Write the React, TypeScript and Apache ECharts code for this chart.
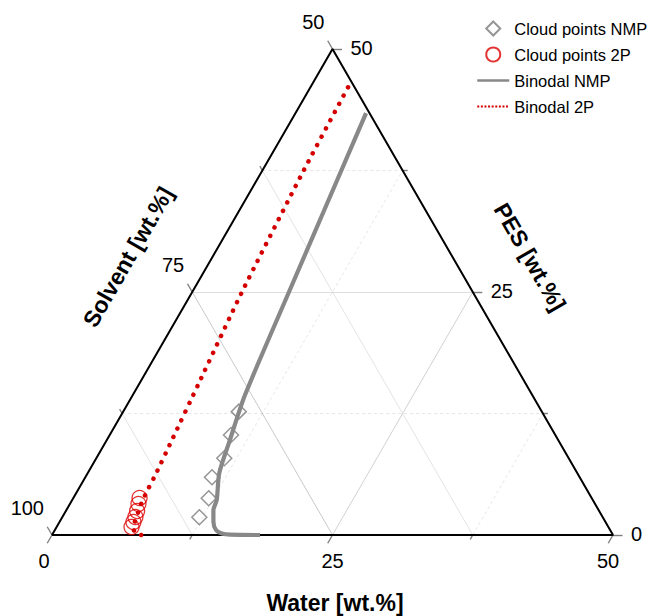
import React, { useEffect, useRef } from 'react';
import * as echarts from 'echarts';

const SQ = Math.sqrt(3) / 2;

// Compositions in wt.%: water and PES (solvent = 100 - water - PES)
const cloudNMPWater = [12.22, 12.08, 11.29, 11.41, 10.81, 10.3];
const cloudNMPPes = [1.82, 3.78, 5.94, 7.89, 10.29, 12.69];

const cloud2PWater = [6.68, 6.59, 6.51, 6.35, 6.11, 5.9];
const cloud2PPes = [0.82, 1.34, 1.85, 2.47, 3.19, 3.81];

const binNMPWater = [18.54, 15.86, 15.07, 14.36, 13.72, 13.1, 12.88, 11.72, 10.97, 10.0, 8.62, 6.29];
const binNMPPes = [0, 0.03, 0.15, 0.51, 1.34, 2.57, 3.6, 6.38, 9.77, 14.4, 25.0, 43.4];

const bin2PWater = [7.95, 7.3, 6.85, 6.65, 6.5, 6.35, 6.22, 6.13, 5.82, 5.28, 4.43, 3.68, 3.35];
const bin2PPes = [0, 0.2, 0.8, 1.6, 2.4, 3.2, 4.4, 6.1, 9.6, 15.6, 25.0, 37.5, 46.2];

// Axis ticks
const waterTicks = [0, 12.5, 25, 37.5, 50];
const waterTickLabels = ['0', '', '25', '', '50'];
const solventTicks = [100, 87.5, 75, 62.5, 50];
const solventTickLabels = ['100', '', '75', '', '50'];
const pesTicks = [0, 12.5, 25, 37.5, 50];
const pesTickLabels = ['0', '', '25', '', '50'];
const gridLevels = [12.5, 25, 37.5];

const FONT = 'Arial, "Liberation Sans", Helvetica, sans-serif';

const toXY = (w: number, p: number) => [w + p / 2, p * SQ];
const zipXY = (ws: number[], ps: number[]) => ws.map((w, i) => toXY(w, ps[i]));

function buildOption() {
  const gridData: any[] = [];
  const light = '#c8c8c8';
  const medium = '#999999';
  gridLevels.forEach((v) => {
    const major = v === 25;
    gridData.push({
      coords: [toXY(0, v), toXY(50 - v, v)],
      lineStyle: major
        ? { color: '#bdbdbd', width: 1.2, type: 'solid' }
        : { color: light, width: 0.9, type: [3, 3] },
    });
    gridData.push({
      coords: [toXY(v, 0), toXY(v, 50 - v)],
      lineStyle: major
        ? { color: medium, width: 0.9, type: 'solid' }
        : { color: light, width: 0.9, type: [3, 3] },
    });
    gridData.push({
      coords: [toXY(v, 0), toXY(0, v)],
      lineStyle: major
        ? { color: '#888888', width: 0.9, type: 'solid' }
        : { color: light, width: 1, type: 'solid' },
    });
  });

  const tickData: any[] = [];
  const labelData: any[] = [];
  const seg = (pt: number[], dir: number[], len: number) => [pt, [pt[0] + dir[0] * len, pt[1] + dir[1] * len]];
  const waterDx = [-8, 0, 0, 0, -5];
  const labelStyle = {
    show: true,
    position: 'inside',
    verticalAlign: 'middle',
    fontSize: 20,
    color: '#000000',
    opacity: 1,
    fontFamily: FONT,
    textBorderWidth: 0,
  };

  waterTicks.forEach((w, i) => {
    const pt = toXY(w, 0);
    const major = waterTickLabels[i] !== '';
    tickData.push({ coords: seg(pt, [-0.5, -SQ], major ? 0.85 : 0.45) });
    if (major)
      labelData.push({
        value: pt,
        name: waterTickLabels[i],
        label: { ...labelStyle, formatter: waterTickLabels[i], align: 'center', offset: [waterDx[i], 26] },
      });
  });
  solventTicks.forEach((s, i) => {
    const pt = toXY(0, 100 - s);
    const major = solventTickLabels[i] !== '';
    tickData.push({ coords: seg(pt, [-0.5, SQ], major ? 0.85 : 0.45) });
    if (major)
      labelData.push({
        value: pt,
        name: solventTickLabels[i],
        label: { ...labelStyle, formatter: solventTickLabels[i], align: 'right', offset: [-8, -27] },
      });
  });
  pesTicks.forEach((p, i) => {
    const pt = toXY(50 - p, p);
    const major = pesTickLabels[i] !== '';
    tickData.push({ coords: seg(pt, [1, 0], major ? 0.85 : 0.45) });
    if (major)
      labelData.push({
        value: pt,
        name: pesTickLabels[i],
        label: { ...labelStyle, formatter: pesTickLabels[i], align: 'left', offset: [18, -1.5] },
      });
  });

  const triangle = [toXY(0, 0), toXY(50, 0), toXY(0, 50), toXY(0, 0)];

  return {
    animation: false,
    backgroundColor: '#fff',
    grid: { left: 52, top: 49, width: 561, height: 486 },
    xAxis: { type: 'value', min: 0, max: 50, show: false },
    yAxis: { type: 'value', min: 0, max: 50 * SQ, show: false },
    legend: {
      orient: 'vertical',
      left: 471,
      top: 15,
      itemWidth: 32,
      itemHeight: 14,
      itemGap: 9,
      symbolKeepAspect: true,
      textStyle: { fontSize: 16.5, color: '#000', fontFamily: FONT },
      data: [
        { name: 'Cloud points NMP', icon: 'path://M7,0 L14,7 L7,14 L0,7 Z' },
        { name: 'Cloud points 2P', icon: 'circle' },
        { name: 'Binodal NMP', itemStyle: { opacity: 0 }, lineStyle: { width: 2.5 } },
        { name: 'Binodal 2P', itemStyle: { opacity: 0 }, lineStyle: { width: 2, type: [2, 1.6], cap: 'butt' } },
      ],
    },
    graphic: [
      {
        type: 'text',
        x: 335,
        y: 603,
        style: { text: 'Water [wt.%]', font: `bold 23px ${FONT}`, fill: '#000', textAlign: 'center', textVerticalAlign: 'middle' },
      },
      {
        type: 'text',
        x: 128,
        y: 257,
        rotation: Math.PI / 3,
        style: { text: 'Solvent [wt.%]', font: `bold 23px ${FONT}`, fill: '#000', textAlign: 'center', textVerticalAlign: 'middle' },
      },
      {
        type: 'text',
        x: 530,
        y: 257,
        rotation: -Math.PI / 3,
        style: { text: 'PES [wt.%]', font: `bold 23px ${FONT}`, fill: '#000', textAlign: 'center', textVerticalAlign: 'middle' },
      },
    ],
    series: [
      {
        name: 'grid',
        type: 'lines',
        coordinateSystem: 'cartesian2d',
        silent: true,
        clip: false,
        z: 1,
        data: gridData,
      },
      {
        name: 'ticks',
        type: 'lines',
        coordinateSystem: 'cartesian2d',
        silent: true,
        clip: false,
        z: 3,
        lineStyle: { color: '#000', width: 1.4 },
        data: tickData,
      },
      {
        name: 'frame',
        type: 'line',
        data: triangle,
        symbol: 'none',
        silent: true,
        clip: false,
        z: 3,
        lineStyle: { color: '#000', width: 2 },
      },
      {
        name: 'tickLabels',
        type: 'scatter',
        data: labelData,
        symbolSize: 0,
        silent: true,
        itemStyle: { color: '#000000' },
        label: labelStyle,
        emphasis: { disabled: true },
        z: 4,
      },
      {
        name: 'Cloud points NMP',
        type: 'scatter',
        data: zipXY(cloudNMPWater, cloudNMPPes),
        symbol: 'diamond',
        symbolSize: 15,
        clip: false,
        itemStyle: { color: 'rgba(255,255,255,0)', borderColor: '#7a7a7a', borderWidth: 1.5 },
        z: 5,
      },
      {
        name: 'Cloud points 2P',
        type: 'scatter',
        data: zipXY(cloud2PWater, cloud2PPes),
        symbol: 'circle',
        symbolSize: 15,
        clip: false,
        itemStyle: { color: 'rgba(255,255,255,0)', borderColor: '#dd0000', borderWidth: 1.3 },
        z: 5,
      },
      {
        name: 'Binodal NMP',
        type: 'line',
        data: zipXY(binNMPWater, binNMPPes),
        symbol: 'none',
        smooth: 0.25,
        clip: false,
        color: '#888888',
        lineStyle: { color: '#888888', width: 4.2 },
        z: 6,
      },
      {
        name: 'Binodal 2P',
        type: 'line',
        data: zipXY(bin2PWater, bin2PPes),
        symbol: 'none',
        smooth: 0.2,
        clip: false,
        color: '#d40000',
        lineStyle: { color: '#d40000', width: 4.5, type: [0.1, 9.2], cap: 'round' },
        z: 6,
      },
    ],
  };
}

export default function App() {
  const ref = useRef<HTMLDivElement>(null);
  useEffect(() => {
    if (!ref.current) return;
    const chart = echarts.init(ref.current, undefined, { renderer: 'svg' });
    chart.setOption(buildOption() as any);
    return () => chart.dispose();
  }, []);
  return (
    <div
      ref={ref}
      style={{ position: 'absolute', left: 0, top: 0, width: 654, height: 616, background: '#fff' }}
    />
  );
}
